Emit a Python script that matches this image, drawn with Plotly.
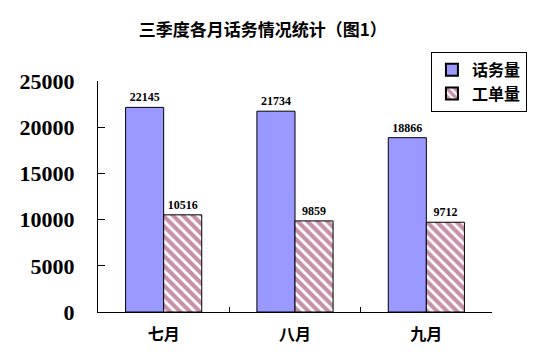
import plotly.graph_objects as go

months = ["七月", "八月", "九月"]
calls = [22145, 21734, 18866]
tickets = [10516, 9859, 9712]
series_names = ["话务量", "工单量"]
title_text = "三季度各月话务情况统计（图1）"

num_font = "Liberation Serif, Times New Roman, serif"
cjk_font = "Noto Sans CJK SC, sans-serif"

fig = go.Figure()
fig.add_trace(go.Bar(
    x=months, y=calls, name=series_names[0],
    marker=dict(color="#9999FF", line=dict(color="black", width=1)),
    text=calls, textposition="outside", cliponaxis=False,
    textfont=dict(family=num_font, size=12, color="black", weight="bold"),
))
fig.add_trace(go.Bar(
    x=months, y=tickets, name=series_names[1],
    marker=dict(color="white", line=dict(color="black", width=1),
                pattern=dict(shape="\\", fgcolor="#8B2252", bgcolor="white",
                             size=7, solidity=0.6)),
    text=tickets, textposition="outside", cliponaxis=False,
    textfont=dict(family=num_font, size=12, color="black", weight="bold"),
))

fig.update_layout(
    width=542, height=355,
    paper_bgcolor="white", plot_bgcolor="white",
    margin=dict(l=90, r=58, t=73, b=51, autoexpand=False),
    barmode="group", bargap=0.42, bargroupgap=0,
    title=dict(text=title_text, x=0.47, xanchor="center", y=0.938, yanchor="middle",
               font=dict(family=cjk_font, size=17, color="black", weight="bold")),
    legend=dict(x=0.845, xanchor="left", y=1.126, yanchor="top",
                bordercolor="black", borderwidth=1, bgcolor="white",
                font=dict(family=cjk_font, size=16, color="black", weight="bold"),
                itemsizing="constant", itemwidth=30, tracegroupgap=0),
    showlegend=True,
    xaxis=dict(showline=True, linecolor="black", linewidth=1,
               ticks="inside", tickson="boundaries", ticklen=5, tickcolor="black",
               showgrid=False, ticklabelstandoff=8,
               tickfont=dict(family=cjk_font, size=16, color="black", weight="bold")),
    yaxis=dict(range=[0, 25000], dtick=5000, tickformat="d", showline=True,
               linecolor="black", linewidth=1,
               ticks="inside", ticklen=7, tickcolor="black", showgrid=False, zeroline=False,
               ticklabelstandoff=18,
               tickfont=dict(family=num_font, size=22, color="black", weight="bold")),
)

fig.write_html("out.html")
